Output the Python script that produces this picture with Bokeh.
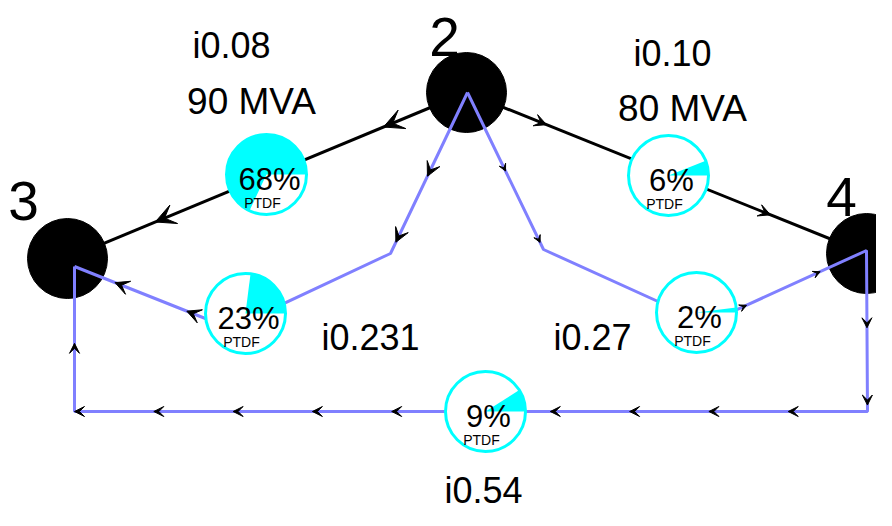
import math
from bokeh.plotting import figure
from bokeh.models import Range1d, Arrow, VeeHead, ColumnDataSource
from bokeh.core.properties import value
from bokeh.embed import file_html
from bokeh.resources import INLINE

FONT = "'Liberation Sans', Arial, sans-serif"

# ---- data (diagram coordinates, y grows downward) ----
node_names = ["2", "3", "4"]
node_x = [466, 67, 866]
node_y = [92, 258, 253]
node_label_x = [444, 23, 841]
node_label_y = [36, 200, 196]

# direct (black) lines: node index pairs
black_from = [0, 0]
black_to = [1, 2]

# PTDF indicators
ptdf_pct = [68, 23, 6, 2, 9]
pie_x = [266, 245, 668, 696, 485]
pie_y = [174, 313, 175, 312, 411]

# loop (blue) flow paths
path_a_x = [467, 390, 230, 74]
path_a_y = [92, 253, 328, 266]
path_b_x = [467, 543, 706, 866, 867, 74, 74]
path_b_y = [92, 249, 323, 250, 411, 411, 266]

# flow labels
flow_text = ["i0.08", "i0.10", "i0.231", "i0.27", "i0.54"]
flow_x = [231, 672, 370, 592, 483]
flow_y = [45, 53, 337, 337, 490]
rating_text = ["90 MVA", "80 MVA"]
rating_x = [251, 682]
rating_y = [101, 108]

BLUE = "#8080ff"
CYAN = "#00ffff"

p = figure(width=876, height=510, x_range=Range1d(0, 876), y_range=Range1d(510, 0),
           output_backend="svg", toolbar_location=None,
           x_axis_location=None, y_axis_location=None, min_border=0)
p.grid.visible = False
p.outline_line_color = None
p.background_fill_color = "white"

# black lines
for a, b in zip(black_from, black_to):
    p.line([node_x[a], node_x[b]], [node_y[a], node_y[b]], line_color="black", line_width=3)

# nodes
p.circle(node_x, node_y, radius=40, radius_units="screen", fill_color="black", line_color="black")

# blue paths
p.line(path_a_x, path_a_y, line_color=BLUE, line_width=3)
p.line(path_b_x, path_b_y, line_color=BLUE, line_width=3)


def arrows_on(xs, ys, seg, fracs, size):
    x0, y0, x1, y1 = xs[seg], ys[seg], xs[seg + 1], ys[seg + 1]
    L = math.hypot(x1 - x0, y1 - y0)
    ux, uy = (x1 - x0) / L, (y1 - y0) / L
    d = dict(xs=[], ys=[], xe=[], ye=[])
    for f in fracs:
        tx, ty = x0 + f * (x1 - x0), y0 + f * (y1 - y0)
        d["xs"].append(tx - 2 * ux)
        d["ys"].append(ty - 2 * uy)
        d["xe"].append(tx)
        d["ye"].append(ty)
    src = ColumnDataSource(d)
    p.add_layout(Arrow(x_start="xs", y_start="ys", x_end="xe", y_end="ye", source=src,
                       line_alpha=0,
                       end=VeeHead(size=size, fill_color="black", line_color="black", line_width=1)))


bx23 = [node_x[0], node_x[1]]
by23 = [node_y[0], node_y[1]]
bx24 = [node_x[0], node_x[2]]
by24 = [node_y[0], node_y[2]]
arrows_on(bx23, by23, 0, [0.208, 0.78], 20)
arrows_on(bx24, by24, 0, [0.2, 0.76], 12)
arrows_on(path_a_x, path_a_y, 0, [0.52, 0.93], 14)
arrows_on(path_a_x, path_a_y, 2, [0.28, 0.74], 14)
arrows_on(path_b_x, path_b_y, 0, [0.5, 0.955], 7)
arrows_on(path_b_x, path_b_y, 2, [0.25, 0.71], 7)
arrows_on(path_b_x, path_b_y, 3, [0.48, 0.96], 10)
arrows_on(path_b_x, path_b_y, 4, [k / 10 for k in range(1, 11)], 10)
arrows_on(path_b_x, path_b_y, 5, [0.47], 10)

# PTDF pies
p.circle(pie_x, pie_y, radius=40, radius_units="screen", fill_color="white", line_color=None, level="overlay")
ends = [v / 100 * 2 * math.pi for v in ptdf_pct]
p.wedge(pie_x, pie_y, radius=40, radius_units="screen", start_angle=0, end_angle=ends,
        direction="anticlock", fill_color=CYAN, line_color=None, level="overlay")
p.circle(pie_x, pie_y, radius=40, radius_units="screen", fill_color=None, line_color=CYAN,
         line_width=3, level="overlay")
p.text([x + 3 for x in pie_x], [y + 5 for y in pie_y], text=[f"{v}%" for v in ptdf_pct],
       text_font=value(FONT), text_font_size="31px", text_align="center", text_baseline="middle",
       text_color="black", level="overlay")
p.text([x - 4 for x in pie_x], [y + 28 for y in pie_y], text=["PTDF"] * len(pie_x),
       text_font=value(FONT), text_font_size="14px", text_align="center", text_baseline="middle",
       text_color="black", level="overlay")

# labels
p.text(node_label_x, node_label_y, text=node_names, text_font=value(FONT), text_font_size="55px",
       text_align="center", text_baseline="middle", text_color="black", level="overlay")
p.text(flow_x, flow_y, text=flow_text, text_font=value(FONT), text_font_size="36px",
       text_align="center", text_baseline="middle", text_color="black", level="overlay")
p.text(rating_x, rating_y, text=rating_text, text_font=value(FONT), text_font_size="37px",
       text_align="center", text_baseline="middle", text_color="black", level="overlay")

open("out.html", "w").write(file_html(p, INLINE))
